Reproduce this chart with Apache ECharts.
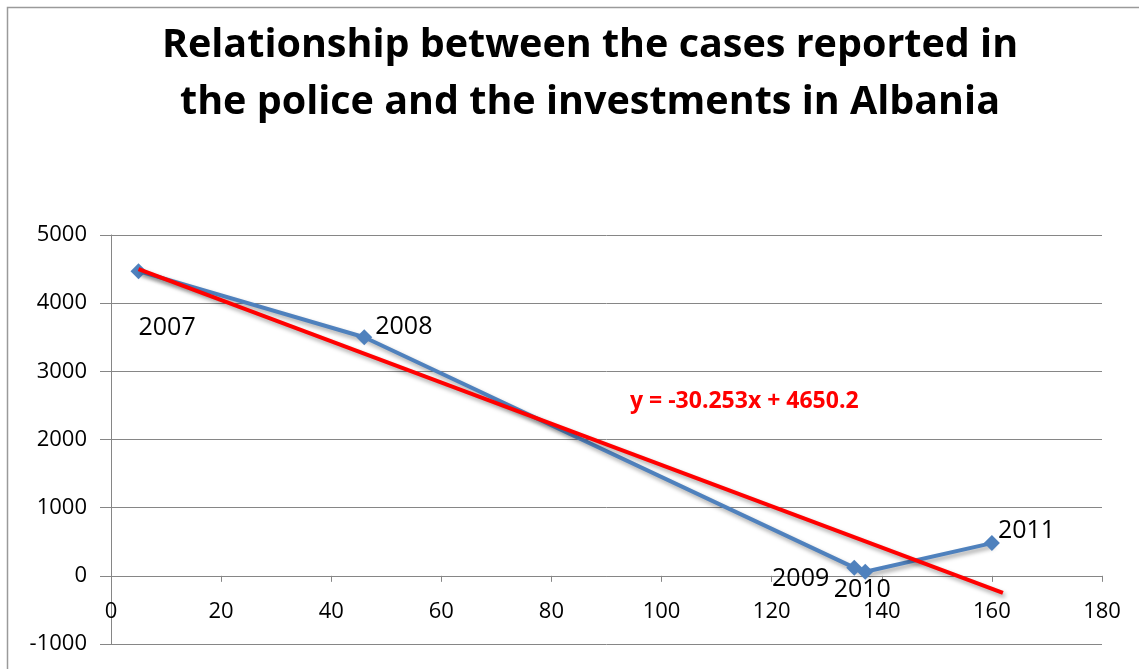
<!DOCTYPE html>
<html lang="en">

<head>
    <meta charset="UTF-8">
    <title>Albania</title>
    <script src="https://cdn.jsdelivr.net/npm/echarts@6/dist/echarts.min.js"></script>
    <style>
        html, body { margin: 0; padding: 0; background: #fff; }
        #chart1 { width: 1139px; height: 669px; }
    </style>
</head>

<body>
    <div id="chart1"></div>
    <script>
        // values
        const years = ['2007', '2008', '2009', '2010', '2011'];
        const investments = [5, 46, 135, 137, 160];
        const cases = [4470, 3500, 120, 60, 480];
        const trendX = [5, 162];
        const trendY = [4499, -251];
        const equation = 'y = -30.253x + 4650.2';
        const titleText = 'Relationship between the cases reported in\nthe police and the investments in Albania';

        const labelFont = '"Open Sans", sans-serif';
        // where each year label sits round its point
        const labelPlace = [
            { position: 'right', offset: [-13, 57] },
            { position: 'right', offset: [-2, -10] },
            { position: 'left', offset: [-12, 11] },
            { position: 'bottom', offset: [-3, -7] },
            { position: 'right', offset: [-7, -12] }
        ];

        const points = years.map(function (y, i) {
            return {
                value: [investments[i], cases[i]],
                label: Object.assign({ show: true, formatter: y }, labelPlace[i])
            };
        });
        const trend = trendX.map(function (x, i) { return [x, trendY[i]]; });

        const gridTop = 235, gridBottom = 25;
        const plotH = 669 - gridTop - gridBottom;
        // x axis sits on the 0 line, one step (1000 of 6000) above the bottom
        const zeroShift = plotH * 1000 / 6000;

        const chart1 = echarts.init(document.getElementById('chart1'));
        chart1.setOption({
            animation: false,
            graphic: [{
                type: 'rect',
                shape: { x: 7.5, y: 7.5, width: 1200, height: 700 },
                style: { fill: null, stroke: '#9a9a9a', lineWidth: 1.5 },
                silent: true
            }, {
                // title, a little right of centre as in the original
                type: 'text',
                x: 590,
                y: 17,
                style: {
                    text: titleText,
                    align: 'center',
                    verticalAlign: 'top',
                    lineHeight: 57,
                    fill: '#000',
                    font: 'bold 39.5px "Open Sans", sans-serif'
                }
            }, {
                type: 'text',
                left: 630,
                top: 390,
                style: {
                    text: equation,
                    fill: '#ff0000',
                    font: 'bold 23px "Open Sans", sans-serif'
                }
            }],
            grid: { left: 111, right: 37, top: gridTop, bottom: gridBottom, outerBoundsMode: 'none' },
            xAxis: {
                type: 'value',
                min: 0,
                max: 180,
                interval: 20,
                offset: -zeroShift,
                axisLine: { onZero: false, lineStyle: { color: '#868686', width: 1 } },
                axisTick: { show: true, length: 6, lineStyle: { color: '#868686' } },
                axisLabel: { color: '#000', fontFamily: labelFont, fontSize: 22, margin: 25 },
                splitLine: { show: false }
            },
            yAxis: {
                type: 'value',
                min: -1000,
                max: 5000,
                interval: 1000,
                axisLine: { show: true, onZero: false, lineStyle: { color: '#868686', width: 1 } },
                axisTick: { show: true, length: 11, lineStyle: { color: '#868686' } },
                axisLabel: {
                    color: '#000', fontFamily: labelFont, fontSize: 22, margin: 24,
                    formatter: function (v) { return String(v); }
                },
                splitLine: { show: true, lineStyle: { color: '#868686', width: 1 } }
            },
            series: [{
                type: 'line',
                data: points,
                symbol: 'diamond',
                symbolSize: 16,
                itemStyle: { color: '#4f81bd' },
                lineStyle: {
                    color: '#4f81bd',
                    width: 4,
                    shadowColor: 'rgba(0,0,0,0.35)',
                    shadowBlur: 4,
                    shadowOffsetX: 2,
                    shadowOffsetY: 3
                },
                label: { color: '#000', fontFamily: labelFont, fontSize: 25, distance: 5 },
                z: 2
            }, {
                type: 'line',
                data: trend,
                symbol: 'none',
                lineStyle: {
                    color: '#ff0000',
                    width: 4,
                    shadowColor: 'rgba(0,0,0,0.35)',
                    shadowBlur: 4,
                    shadowOffsetX: 2,
                    shadowOffsetY: 3
                },
                z: 3
            }]
        });
    </script>
</body>

</html>
